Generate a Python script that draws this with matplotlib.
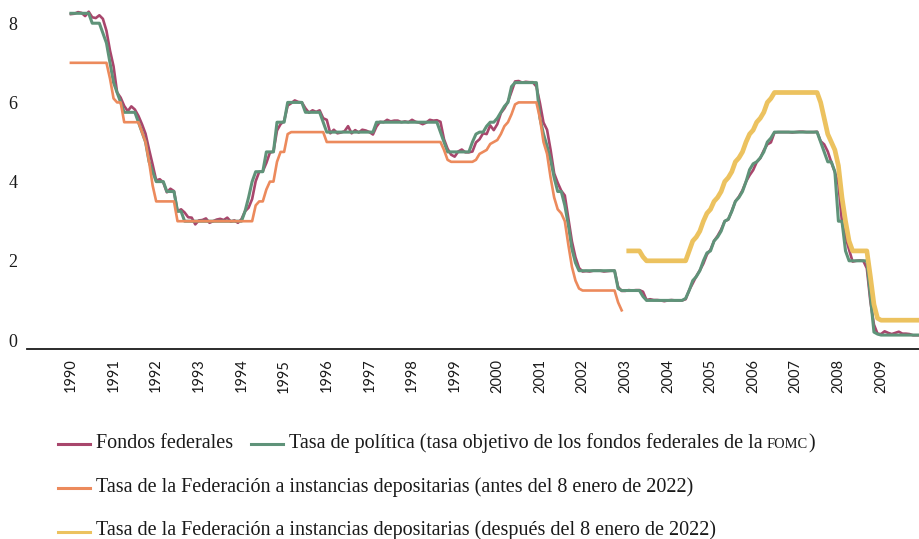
import numpy as np
import matplotlib
matplotlib.use("Agg")
import matplotlib.pyplot as plt
from matplotlib.lines import Line2D

# monthly series, first value = January of the start year
START_MAIN = 1990
START_PRIMARY = 2003 + 1 / 12  # February 2003

FED_FUNDS = [
    8.23, 8.24, 8.28, 8.26, 8.18, 8.29, 8.15, 8.13, 8.20, 8.11, 7.81, 7.31,  # 1990
    6.91, 6.25, 6.12, 5.91, 5.78, 5.90, 5.82, 5.66, 5.45, 5.21, 4.81, 4.43,  # 1991
    4.03, 4.06, 3.98, 3.73, 3.82, 3.76, 3.25, 3.30, 3.22, 3.10, 3.09, 2.92,  # 1992
    3.02, 3.03, 3.07, 2.96, 3.00, 3.04, 3.06, 3.03, 3.09, 2.99, 3.02, 2.96,  # 1993
    3.05, 3.25, 3.34, 3.56, 4.01, 4.25, 4.26, 4.47, 4.73, 4.76, 5.29, 5.45,  # 1994
    5.53, 5.92, 5.98, 6.05, 6.01, 6.00, 5.85, 5.74, 5.80, 5.76, 5.80, 5.60,  # 1995
    5.56, 5.22, 5.31, 5.22, 5.24, 5.27, 5.40, 5.22, 5.30, 5.24, 5.31, 5.29,  # 1996
    5.25, 5.19, 5.39, 5.51, 5.50, 5.56, 5.52, 5.54, 5.54, 5.50, 5.52, 5.50,  # 1997
    5.56, 5.51, 5.49, 5.45, 5.49, 5.56, 5.54, 5.55, 5.51, 5.07, 4.83, 4.68,  # 1998
    4.63, 4.76, 4.81, 4.74, 4.74, 4.76, 4.99, 5.07, 5.22, 5.20, 5.42, 5.30,  # 1999
    5.45, 5.73, 5.85, 6.02, 6.27, 6.53, 6.54, 6.50, 6.52, 6.51, 6.51, 6.40,  # 2000
    5.98, 5.49, 5.31, 4.80, 4.21, 3.97, 3.77, 3.65, 3.07, 2.49, 2.09, 1.82,  # 2001
    1.73, 1.74, 1.73, 1.75, 1.75, 1.75, 1.73, 1.74, 1.75, 1.75, 1.34, 1.24,  # 2002
    1.24, 1.26, 1.25, 1.26, 1.26, 1.22, 1.01, 1.03, 1.01, 1.01, 1.00, 0.98,  # 2003
    1.00, 1.01, 1.00, 1.00, 1.00, 1.03, 1.26, 1.43, 1.61, 1.76, 1.93, 2.16,  # 2004
    2.28, 2.50, 2.63, 2.79, 3.00, 3.04, 3.26, 3.50, 3.62, 3.78, 4.00, 4.16,  # 2005
    4.29, 4.49, 4.59, 4.79, 4.94, 4.99, 5.24, 5.25, 5.25, 5.25, 5.25, 5.24,  # 2006
    5.25, 5.26, 5.26, 5.25, 5.25, 5.25, 5.26, 5.02, 4.94, 4.76, 4.49, 4.24,  # 2007
    3.94, 2.98, 2.61, 2.28, 1.98, 2.00, 2.01, 2.00, 1.81, 0.97, 0.39, 0.16,  # 2008
    0.15, 0.22, 0.18, 0.15, 0.18, 0.21, 0.16, 0.16, 0.15, 0.12, 0.12, 0.12,  # 2009
]

POLICY_TARGET = [
    8.25, 8.25, 8.25, 8.25, 8.25, 8.25, 8.00, 8.00, 8.00, 7.75, 7.50, 7.00,  # 1990
    6.50, 6.25, 6.00, 5.75, 5.75, 5.75, 5.75, 5.50, 5.25, 5.00, 4.50, 4.25,  # 1991
    4.00, 4.00, 4.00, 3.75, 3.75, 3.75, 3.25, 3.25, 3.00, 3.00, 3.00, 3.00,  # 1992
    3.00, 3.00, 3.00, 3.00, 3.00, 3.00, 3.00, 3.00, 3.00, 3.00, 3.00, 3.00,  # 1993
    3.00, 3.25, 3.60, 4.00, 4.25, 4.25, 4.25, 4.75, 4.75, 4.75, 5.50, 5.50,  # 1994
    5.50, 6.00, 6.00, 6.00, 6.00, 6.00, 5.75, 5.75, 5.75, 5.75, 5.75, 5.50,  # 1995
    5.25, 5.25, 5.25, 5.25, 5.25, 5.25, 5.25, 5.25, 5.25, 5.25, 5.25, 5.25,  # 1996
    5.25, 5.25, 5.50, 5.50, 5.50, 5.50, 5.50, 5.50, 5.50, 5.50, 5.50, 5.50,  # 1997
    5.50, 5.50, 5.50, 5.50, 5.50, 5.50, 5.50, 5.50, 5.25, 5.00, 4.75, 4.75,  # 1998
    4.75, 4.75, 4.75, 4.75, 4.75, 5.00, 5.20, 5.25, 5.25, 5.40, 5.50, 5.50,  # 1999
    5.60, 5.75, 5.90, 6.00, 6.40, 6.50, 6.50, 6.50, 6.50, 6.50, 6.50, 6.50,  # 2000
    5.60, 5.20, 4.90, 4.55, 4.10, 3.75, 3.75, 3.40, 2.90, 2.30, 1.95, 1.75,  # 2001
    1.75, 1.75, 1.75, 1.75, 1.75, 1.75, 1.75, 1.75, 1.75, 1.75, 1.30, 1.25,  # 2002
    1.25, 1.25, 1.25, 1.25, 1.25, 1.10, 1.00, 1.00, 1.00, 1.00, 1.00, 1.00,  # 2003
    1.00, 1.00, 1.00, 1.00, 1.00, 1.05, 1.25, 1.50, 1.60, 1.75, 2.00, 2.20,  # 2004
    2.25, 2.50, 2.60, 2.75, 3.00, 3.05, 3.25, 3.50, 3.60, 3.75, 4.00, 4.30,  # 2005
    4.45, 4.50, 4.60, 4.75, 5.00, 5.10, 5.25, 5.25, 5.25, 5.25, 5.25, 5.25,  # 2006
    5.25, 5.25, 5.25, 5.25, 5.25, 5.25, 5.25, 5.00, 4.75, 4.50, 4.50, 4.25,  # 2007
    3.00, 3.00, 2.25, 2.00, 2.00, 2.00, 2.00, 2.00, 2.00, 1.10, 0.20, 0.15,  # 2008
    0.125, 0.125, 0.125, 0.125, 0.125, 0.125, 0.125, 0.125, 0.125, 0.125, 0.125, 0.125,  # 2009
]

DISCOUNT_BEFORE = [
    7.00, 7.00, 7.00, 7.00, 7.00, 7.00, 7.00, 7.00, 7.00, 7.00, 7.00, 6.60,  # 1990
    6.10, 6.00, 6.00, 5.50, 5.50, 5.50, 5.50, 5.50, 5.25, 5.00, 4.50, 3.90,  # 1991
    3.50, 3.50, 3.50, 3.50, 3.50, 3.50, 3.00, 3.00, 3.00, 3.00, 3.00, 3.00,  # 1992
    3.00, 3.00, 3.00, 3.00, 3.00, 3.00, 3.00, 3.00, 3.00, 3.00, 3.00, 3.00,  # 1993
    3.00, 3.00, 3.00, 3.00, 3.40, 3.50, 3.50, 3.80, 4.00, 4.00, 4.50, 4.75,  # 1994
    4.75, 5.20, 5.25, 5.25, 5.25, 5.25, 5.25, 5.25, 5.25, 5.25, 5.25, 5.25,  # 1995
    5.00, 5.00, 5.00, 5.00, 5.00, 5.00, 5.00, 5.00, 5.00, 5.00, 5.00, 5.00,  # 1996
    5.00, 5.00, 5.00, 5.00, 5.00, 5.00, 5.00, 5.00, 5.00, 5.00, 5.00, 5.00,  # 1997
    5.00, 5.00, 5.00, 5.00, 5.00, 5.00, 5.00, 5.00, 5.00, 4.80, 4.55, 4.50,  # 1998
    4.50, 4.50, 4.50, 4.50, 4.50, 4.50, 4.55, 4.70, 4.75, 4.80, 4.95, 5.00,  # 1999
    5.05, 5.20, 5.40, 5.50, 5.70, 5.95, 6.00, 6.00, 6.00, 6.00, 6.00, 6.00,  # 2000
    5.60, 5.00, 4.70, 4.10, 3.60, 3.30, 3.20, 3.00, 2.40, 1.85, 1.50, 1.30,  # 2001
    1.25, 1.25, 1.25, 1.25, 1.25, 1.25, 1.25, 1.25, 1.25, 1.25, 0.95, 0.75,  # 2002
]

PRIMARY_CREDIT = [
    2.25, 2.25, 2.25, 2.25, 2.10, 2.00, 2.00, 2.00, 2.00, 2.00, 2.00,  # 2003 (feb-dec)
    2.00, 2.00, 2.00, 2.00, 2.00, 2.00, 2.25, 2.50, 2.60, 2.75, 3.00, 3.20,  # 2004
    3.30, 3.50, 3.60, 3.75, 4.00, 4.10, 4.25, 4.50, 4.60, 4.75, 5.00, 5.20,  # 2005
    5.30, 5.50, 5.60, 5.75, 6.00, 6.10, 6.25, 6.25, 6.25, 6.25, 6.25, 6.25,  # 2006
    6.25, 6.25, 6.25, 6.25, 6.25, 6.25, 6.25, 6.00, 5.60, 5.20, 5.00, 4.80,  # 2007
    4.40, 3.60, 3.00, 2.50, 2.25, 2.25, 2.25, 2.25, 2.25, 1.60, 0.90, 0.55,  # 2008
    0.50, 0.50, 0.50, 0.50, 0.50, 0.50, 0.50, 0.50, 0.50, 0.50, 0.50, 0.50,  # 2009
]

YEAR_TICKS = list(range(1990, 2010))
Y_TICKS = [0, 2, 4, 6, 8]

LABEL_FED = "Fondos federales"
LABEL_POLICY = "Tasa de política (tasa objetivo de los fondos federales de la"
LABEL_POLICY_SC = "FOMC"
LABEL_BEFORE = "Tasa de la Federación a instancias depositarias (antes del 8 enero de 2022)"
LABEL_AFTER = "Tasa de la Federación a instancias depositarias (después del 8 enero de 2022)"

COLOR_FED = "#a8466c"
COLOR_POLICY = "#5f9379"
COLOR_BEFORE = "#ec8a5c"
COLOR_AFTER = "#ecc25f"
TEXT_COLOR = "#1a1a1a"
SERIF = "Liberation Serif"
SANS = "Lato"

W, H = 919, 539


def monthly_x(start, values):
    return start + np.arange(len(values)) / 12


def fx(px):
    return px / W


def fy(py):
    return 1 - py / H


fig = plt.figure(figsize=(W / 100, H / 100), dpi=100)
ax = fig.add_axes([fx(27), fy(349), 1 - fx(27), 349 / H])

ax.plot(monthly_x(START_MAIN, FED_FUNDS), FED_FUNDS, color=COLOR_FED, lw=1.9, zorder=2)
ax.plot(monthly_x(START_MAIN, POLICY_TARGET), POLICY_TARGET, color=COLOR_POLICY, lw=2.2, zorder=3)
ax.plot(monthly_x(START_MAIN, DISCOUNT_BEFORE), DISCOUNT_BEFORE, color=COLOR_BEFORE, lw=1.9, zorder=4)
ax.plot(monthly_x(START_PRIMARY, PRIMARY_CREDIT), PRIMARY_CREDIT, color=COLOR_AFTER, lw=3.4, zorder=4)

ax.set_xlim(1988.97, 2009.89)
ax.set_ylim(-0.227, 8.586)
for side in ("left", "right", "top"):
    ax.spines[side].set_visible(False)
ax.spines["bottom"].set_linewidth(1.3)
ax.spines["bottom"].set_color(TEXT_COLOR)

ax.set_yticks(Y_TICKS)
ax.set_yticklabels([str(v) for v in Y_TICKS], family=SERIF, fontsize=13, color=TEXT_COLOR)
ax.set_xticks(YEAR_TICKS)
ax.set_xticklabels([str(y) for y in YEAR_TICKS], family=SANS, fontsize=10.5,
                   rotation=90, color=TEXT_COLOR)
ax.tick_params(axis="y", length=0, pad=7)
ax.tick_params(axis="x", length=0, pad=7)

# legend built by hand so the FOMC part can be set in small caps
renderer = fig.canvas.get_renderer()
LEG_SIZE = 14.5


def handle(x0, x1, y, color):
    fig.add_artist(Line2D([fx(x0), fx(x1)], [fy(y), fy(y)], color=color, lw=2.2,
                          transform=fig.transFigure))


def label(x, y, s, size=LEG_SIZE):
    return fig.text(fx(x), fy(y), s, family=SERIF, fontsize=size, color=TEXT_COLOR,
                    ha="left", va="baseline")


handle(58, 90, 444, COLOR_FED)
label(96, 448, LABEL_FED)
handle(251, 283, 444, COLOR_POLICY)
t = label(289, 448, LABEL_POLICY)
x_end = t.get_window_extent(renderer).x1 + 4
t2 = label(x_end, 448, LABEL_POLICY_SC, size=LEG_SIZE * 0.72)
x_end = t2.get_window_extent(renderer).x1 + 0.5
label(x_end, 448, ")")

handle(58, 90, 488, COLOR_BEFORE)
label(96, 492, LABEL_BEFORE)
handle(58, 90, 532, COLOR_AFTER)
label(96, 535, LABEL_AFTER)

fig.savefig("out.png", dpi=100)
